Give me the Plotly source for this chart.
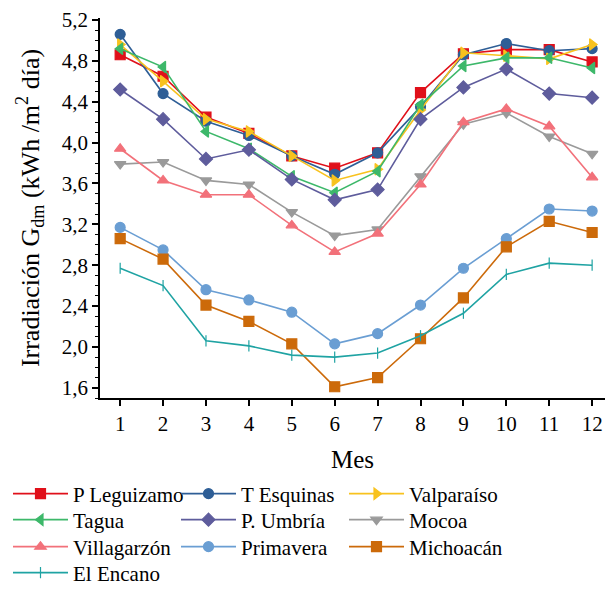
import plotly.graph_objects as go

months = list(range(1, 13))
names = ["P Leguizamo", "T Esquinas", "Valparaíso", "Tagua", "P. Umbría",
         "Mocoa", "Villagarzón", "Primavera", "Michoacán", "El Encano"]

p_leguizamo = [4.86, 4.65, 4.25, 4.09, 3.87, 3.75, 3.90, 4.49, 4.87, 4.91, 4.91, 4.79]
t_esquinas  = [5.06, 4.48, 4.21, 4.07, 3.87, 3.69, 3.90, 4.35, 4.86, 4.97, 4.90, 4.92]
valparaiso  = [4.96, 4.60, 4.23, 4.11, 3.87, 3.63, 3.74, 4.32, 4.88, 4.85, 4.82, 4.96]
tagua       = [4.92, 4.74, 4.11, 3.94, 3.67, 3.51, 3.72, 4.37, 4.75, 4.83, 4.83, 4.73]
p_umbria    = [4.52, 4.23, 3.84, 3.93, 3.64, 3.44, 3.54, 4.23, 4.54, 4.72, 4.48, 4.44]
mocoa       = [3.79, 3.81, 3.63, 3.59, 3.32, 3.09, 3.15, 3.67, 4.18, 4.29, 4.06, 3.89]
villagarzon = [3.94, 3.63, 3.49, 3.49, 3.19, 2.93, 3.11, 3.59, 4.20, 4.33, 4.16, 3.66]
primavera   = [3.17, 2.95, 2.56, 2.46, 2.34, 2.03, 2.13, 2.41, 2.77, 3.06, 3.35, 3.33]
michoacan   = [3.06, 2.86, 2.41, 2.25, 2.03, 1.61, 1.70, 2.08, 2.48, 2.98, 3.23, 3.12]
el_encano   = [2.77, 2.60, 2.06, 2.01, 1.92, 1.90, 1.94, 2.11, 2.33, 2.71, 2.82, 2.80]

series = [p_leguizamo, t_esquinas, valparaiso, tagua, p_umbria,
          mocoa, villagarzon, primavera, michoacan, el_encano]
colors = ["#E0101A", "#2E5E96", "#F8C21E", "#3DB86A", "#5E5C9C",
          "#9A9A9A", "#F2717A", "#6A9ED3", "#CC6A0A", "#1FA3A3"]
symbols = ["square", "circle", "triangle-right", "triangle-left", "diamond",
           "triangle-down", "triangle-up", "circle", "square", "line-ns"]
# legend row (3 entries per row)
legend_ids = ["legend", "legend", "legend", "legend2", "legend2", "legend2",
              "legend3", "legend3", "legend3", "legend4"]

y_ticks = [1.6, 2.0, 2.4, 2.8, 3.2, 3.6, 4.0, 4.4, 4.8, 5.2]

fig = go.Figure()
for name, vals, c, s, lg in zip(names, series, colors, symbols, legend_ids):
    fig.add_trace(go.Scatter(
        x=months, y=vals, name=name, mode="lines+markers", legend=lg,
        line=dict(color=c, width=1.6),
        marker=dict(symbol=s, size=10 if s != "line-ns" else 8, color=c,
                    line=dict(color=c, width=1.2)),
    ))

font = "Liberation Serif"
W, H = 612, 601
row_px = [494, 520, 547, 573]
legends = {}
for i, key in enumerate(["legend", "legend2", "legend3", "legend4"]):
    legends[key] = dict(orientation="h", xref="container", yref="container",
                        x=8 / W, xanchor="left", yanchor="middle",
                        y=1 - row_px[i] / H,
                        itemwidth=55,
                        entrywidth=98, entrywidthmode="pixels",
                        font=dict(family=font, size=21, color="black"),
                        bgcolor="rgba(0,0,0,0)", borderwidth=0)

fig.update_layout(
    width=W, height=H,
    margin=dict(l=100, r=7, t=18, b=203, autoexpand=False),
    paper_bgcolor="white", plot_bgcolor="white",
    separators=",.",
    font=dict(family=font, size=21, color="black"),
    showlegend=True,
    **legends,
)
fig.update_xaxes(
    range=[0.53, 12.3], tickvals=months, showline=True, linecolor="black", linewidth=1.5,
    ticks="outside", ticklen=6, tickwidth=1.5, tickcolor="black", showgrid=False, zeroline=False,
    automargin=False,
    title=dict(text="Mes", font=dict(family=font, size=25), standoff=21),
    tickfont=dict(family=font, size=21),
)
fig.update_yaxes(
    range=[1.5, 5.22], tickvals=y_ticks, tickformat=".1f", showline=True, linecolor="black",
    linewidth=1.5, ticks="outside", ticklen=6, tickwidth=1.5, tickcolor="black",
    showgrid=False, zeroline=False, automargin=False,
    minor=dict(dtick=0.1, tick0=1.6, ticks="outside", ticklen=3, tickwidth=1, tickcolor="black"),
    title=dict(text="Irradiación G<sub>dm</sub> (kWh /m<sup>2</sup> día)",
               font=dict(family=font, size=26), standoff=15),
    tickfont=dict(family=font, size=21),
)

fig.write_html("out.html", config={"displayModeBar": False},
               post_script="document.body.style.margin='0';")
